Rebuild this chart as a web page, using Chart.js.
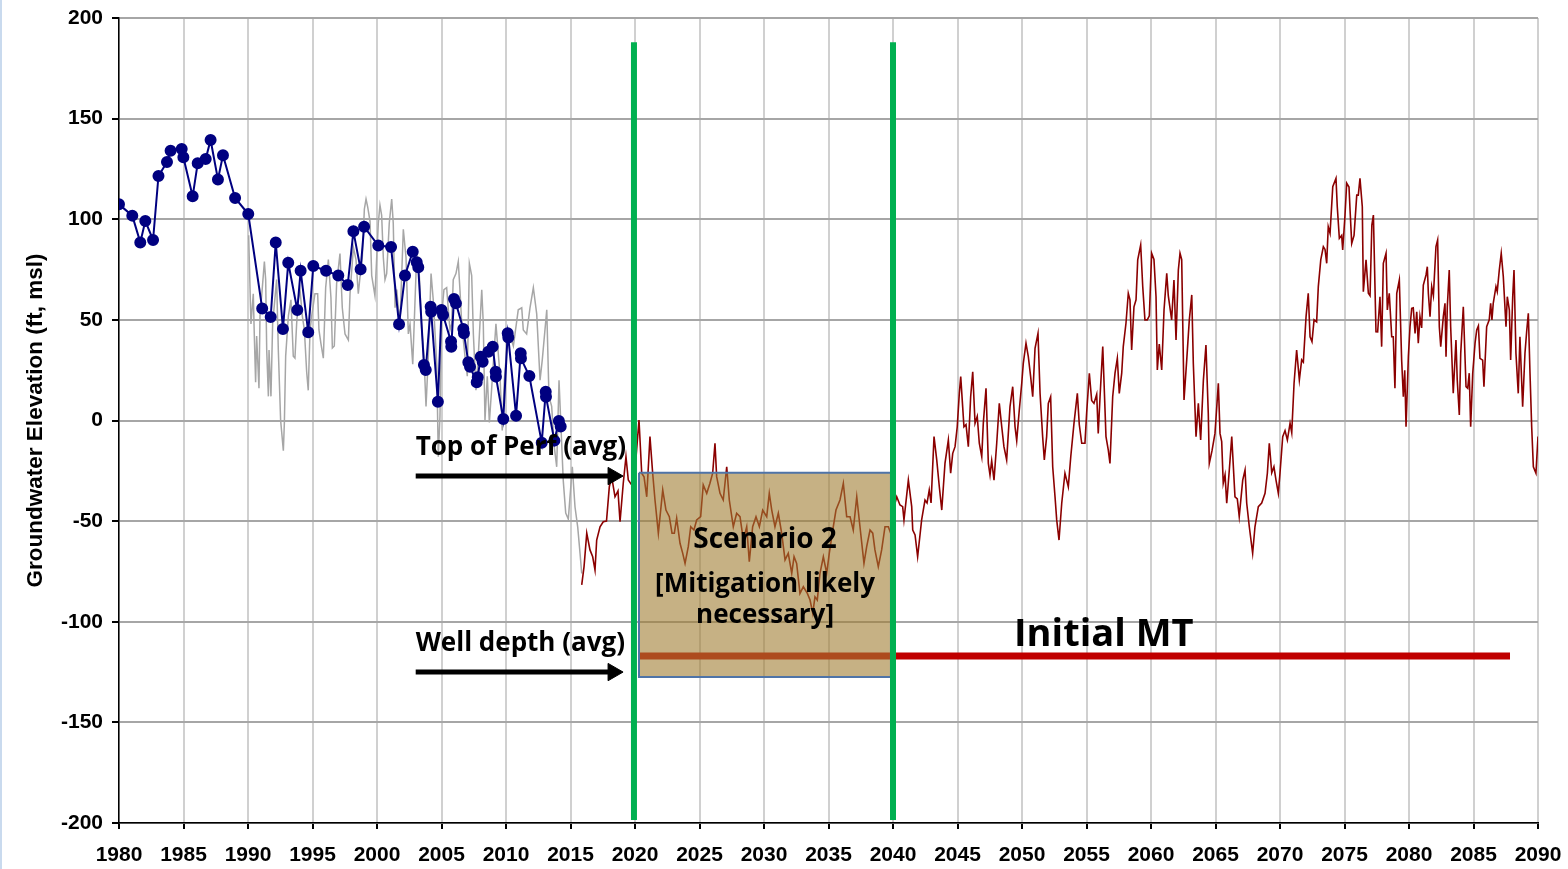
<!DOCTYPE html>
<html>
<head>
<meta charset="utf-8">
<script src="https://cdn.jsdelivr.net/npm/chart.js@4.4.1/dist/chart.umd.min.js"></script>
<style>
  html, body { margin: 0; padding: 0; background: #fff; }
  canvas { display: block; }
  #edge { position: absolute; left: 0; top: 0; width: 2px; height: 869px; background: #c9daee; }
</style>
</head>
<body>
<div id="edge"></div>
<canvas id="chart" width="1568" height="869"></canvas>
<script>
// axis ticks
const xTickYears = [1980, 1985, 1990, 1995, 2000, 2005, 2010, 2015, 2020, 2025, 2030, 2035, 2040,
  2045, 2050, 2055, 2060, 2065, 2070, 2075, 2080, 2085, 2090];
const yTickLevels = [-200, -150, -100, -50, 0, 50, 100, 150, 200];

// measured water levels (blue dots) [year, ft msl]
const measured = [
  [1980.0, 107.4], [1981.03, 101.8], [1981.65, 88.5], [1982.04, 99.1], [1982.64, 89.7],
  [1983.06, 121.5], [1983.72, 128.4], [1984.0, 134], [1984.86, 134.9], [1984.99, 130.8],
  [1985.71, 111.4], [1986.1, 127.8], [1986.72, 129.9], [1987.1, 139.4], [1987.67, 119.8],
  [1988.06, 131.8], [1989.0, 110.6], [1990.02, 102.6], [1991.1, 55.7], [1991.76, 51.4],
  [1992.15, 88.5], [1992.71, 45.5], [1993.12, 78.4], [1993.82, 54.9], [1994.08, 74.4],
  [1994.67, 43.8], [1995.06, 76.8], [1996.05, 74.4], [1997.0, 72], [1997.73, 67.3],
  [1998.17, 94], [1998.73, 75.1], [1999.0, 96.3], [2000.1, 86.9], [2001.09, 86.2],
  [2001.71, 47.8], [2002.17, 72.1], [2002.77, 83.9], [2003.08, 78.6], [2003.2, 76.1],
  [2003.64, 27.6], [2003.78, 25.1], [2004.16, 56.5], [2004.2, 54], [2004.72, 9.3],
  [2005.0, 54.9], [2005.12, 52.4], [2005.74, 39.2], [2005.76, 36.7], [2005.97, 60.4],
  [2006.12, 58.2], [2006.69, 45.5], [2006.74, 43.3], [2007.08, 28.9], [2007.21, 26.7],
  [2007.73, 19], [2007.81, 21.5], [2008.04, 31.7], [2008.19, 29.2], [2008.63, 34.2],
  [2008.97, 36.7], [2009.2, 24.2], [2009.22, 21.8], [2009.79, 0.7], [2010.13, 43.3],
  [2010.18, 41.3], [2010.78, 2.4], [2011.14, 33.4], [2011.16, 30.9], [2011.81, 22.1],
  [2012.77, -11], [2013.08, 14.3], [2013.1, 11.8], [2013.75, -10], [2014.1, -0.2],
  [2014.24, -3]
];

// simulated historical levels (gray) [year, ft msl]
const simulated = [
  [1990.05, 92], [1990.23, 48], [1990.41, 63], [1990.49, 42], [1990.59, 19], [1990.67, 42],
  [1990.85, 16], [1990.93, 52], [1991.11, 66], [1991.27, 79], [1991.37, 70], [1991.45, 35],
  [1991.58, 12], [1991.63, 35], [1991.78, 12], [1991.91, 48], [1992.22, 70], [1992.35, 35],
  [1992.53, 0], [1992.74, -15], [1992.82, -1], [1992.92, 32], [1993.13, 52], [1993.33, 60],
  [1993.51, 32], [1993.64, 31], [1993.77, 48], [1993.9, 60], [1994.03, 65], [1994.21, 52],
  [1994.37, 45], [1994.55, 24], [1994.67, 15], [1994.81, 45], [1994.94, 52], [1995.19, 63],
  [1995.4, 63], [1995.5, 45], [1995.66, 38], [1995.84, 31], [1996.02, 66], [1996.23, 80],
  [1996.43, 61], [1996.54, 36], [1996.69, 37], [1996.87, 68], [1997.13, 83], [1997.31, 56],
  [1997.52, 43], [1997.78, 40], [1997.91, 63], [1998.17, 86], [1998.37, 80], [1998.55, 63],
  [1998.71, 73], [1998.86, 81], [1999.02, 105], [1999.15, 110], [1999.28, 106], [1999.46, 99],
  [1999.59, 72], [1999.84, 62], [2000.1, 98], [2000.23, 107], [2000.36, 102], [2000.49, 81],
  [2000.62, 70], [2000.75, 73], [2000.95, 98], [2001.14, 110], [2001.26, 98], [2001.4, 56],
  [2001.53, 65], [2001.65, 56], [2001.78, 48], [2002.04, 95], [2002.25, 81], [2002.43, 43],
  [2002.56, 48], [2002.77, 28], [2003.08, 83], [2003.28, 72], [2003.47, 45], [2003.64, 32],
  [2003.8, 7], [2003.98, 32], [2004.19, 73], [2004.36, 60], [2004.63, 28], [2004.75, -18],
  [2004.88, 2], [2005.02, 53], [2005.19, 65], [2005.4, 66], [2005.53, 55], [2005.66, 45],
  [2005.79, 48], [2005.91, 70], [2006.12, 73], [2006.3, 79], [2006.43, 65], [2006.57, 48],
  [2006.82, 32], [2007.0, 22], [2007.16, 78], [2007.34, 72], [2007.47, 43], [2007.67, 15],
  [2007.85, 32], [2008.12, 65], [2008.24, 48], [2008.37, 0], [2008.55, 22], [2008.71, -1],
  [2008.89, 16], [2009.22, 48], [2009.53, 23], [2009.71, -5], [2009.87, 20], [2010.18, 45],
  [2010.57, 37], [2010.95, 55], [2011.22, 56], [2011.34, 45], [2011.6, 43], [2011.86, 56],
  [2012.12, 66], [2012.38, 53], [2012.64, 20], [2012.81, 30], [2013.16, 55], [2013.33, 12],
  [2013.54, 7], [2013.74, -13], [2013.93, -23], [2014.11, 20], [2014.26, -3], [2014.44, -30],
  [2014.63, -46], [2014.83, -49], [2015.14, -23], [2015.35, -43], [2015.56, -53], [2015.74, -66],
  [2015.87, -76]
];

// Scenario 2 projection (dark red) [year, ft msl]
const projected = [
  [2015.87, -81.7], [2016.05, -72.6], [2016.26, -56], [2016.51, -64.3], [2016.72, -67.7],
  [2016.9, -74.3], [2017.03, -59.4], [2017.29, -52.8], [2017.54, -50.3], [2017.79, -50],
  [2018.01, -32.9], [2018.19, -27.9], [2018.45, -37.9], [2018.68, -35], [2018.84, -50.3],
  [2019.09, -31.2], [2019.3, -18], [2019.48, -29.6], [2019.74, -32], [2019.92, -31],
  [2020.31, 0.2], [2020.52, -26.2], [2020.7, -28], [2020.91, -37.9], [2021.16, -8],
  [2021.37, -26.2], [2021.55, -39.5], [2021.81, -56], [2022.15, -34.5], [2022.4, -44.5],
  [2022.66, -47.8], [2022.87, -56], [2023.05, -56], [2023.23, -48.6], [2023.49, -61],
  [2023.7, -66], [2023.88, -71], [2024.13, -62.7], [2024.32, -52.8], [2024.57, -54.4],
  [2024.78, -49.4], [2025.09, -47.8], [2025.29, -32], [2025.56, -36.2], [2025.81, -31.2],
  [2026.02, -26.2], [2026.2, -11.3], [2026.33, -27.9], [2026.59, -36.2], [2026.84, -39.5],
  [2027.11, -23], [2027.31, -39.5], [2027.62, -52.8], [2027.88, -46.1], [2028.14, -47.8],
  [2028.4, -59.4], [2028.66, -52.8], [2028.86, -70.2], [2029.12, -52.8], [2029.38, -47.8],
  [2029.64, -52.8], [2029.9, -44.5], [2030.21, -47.8], [2030.41, -36.2], [2030.6, -44.5],
  [2030.85, -52.8], [2031.11, -46.1], [2031.37, -56], [2031.63, -69.3], [2031.88, -66],
  [2032.15, -75.9], [2032.33, -67.7], [2032.53, -71], [2032.79, -85.9], [2033.05, -82.6],
  [2033.36, -85.9], [2033.57, -89.2], [2033.78, -95.8], [2033.95, -87.6], [2034.13, -89.2],
  [2034.34, -75.9], [2034.6, -67.7], [2034.86, -75.9], [2035.06, -66], [2035.37, -52.8],
  [2035.58, -44.5], [2035.89, -39.5], [2036.15, -31.2], [2036.41, -47.8], [2036.67, -47.8],
  [2036.92, -54.4], [2037.19, -37.9], [2037.44, -52.8], [2037.75, -71], [2037.96, -62.7],
  [2038.22, -54.4], [2038.43, -56], [2038.6, -64.3], [2038.86, -72.6], [2039.12, -64.3],
  [2039.38, -52.8], [2039.64, -52.8], [2039.82, -56], [2040.0, -45], [2040.29, -37.9],
  [2040.54, -42], [2040.75, -42.8], [2040.85, -49.4], [2041.19, -29.6], [2041.45, -42.8],
  [2041.53, -54.4], [2041.71, -56.9], [2041.91, -67.7], [2042.22, -49.4], [2042.48, -39.5],
  [2042.64, -41], [2042.81, -34.5], [2042.95, -41], [2043.18, -8], [2043.39, -19.6],
  [2043.59, -32.9], [2043.78, -44.5], [2044.03, -21.3], [2044.29, -9.7], [2044.47, -26.2],
  [2044.63, -16.3], [2044.81, -13], [2044.98, -3.1], [2045.14, 13.5], [2045.25, 21.8],
  [2045.4, 6.9], [2045.5, -3.1], [2045.66, -2], [2045.84, -13], [2046.02, 11.8],
  [2046.18, 24.2], [2046.36, -1.4], [2046.53, 2], [2046.69, -11.3], [2046.88, -18],
  [2047.0, -1.4], [2047.21, 16], [2047.39, -21.3], [2047.52, -27.1], [2047.65, -20],
  [2047.83, -29.6], [2048.04, -11.3], [2048.24, 8.5], [2048.43, -3.1], [2048.6, -13],
  [2048.81, -19.6], [2049.07, 6.9], [2049.28, 16.8], [2049.46, -3.1], [2049.59, -10],
  [2049.79, 5.2], [2049.98, 18.5], [2050.1, 28.4], [2050.31, 38.4], [2050.49, 31.7],
  [2050.67, 21.8], [2050.83, 11.8], [2051.01, 35.9], [2051.24, 43.3], [2051.4, 13.5],
  [2051.6, -8], [2051.73, -19.6], [2051.91, -8], [2052.04, 8.5], [2052.22, 11.8],
  [2052.38, -23], [2052.56, -37.9], [2052.69, -49.4], [2052.87, -59.4], [2053.08, -41.1],
  [2053.33, -26.2], [2053.59, -32.9], [2053.78, -18], [2054.03, -1.4], [2054.29, 13.5],
  [2054.44, -2], [2054.63, -11.3], [2054.88, -11.3], [2055.01, 3.6], [2055.22, 23.5],
  [2055.4, 10], [2055.58, 8.5], [2055.79, 13], [2055.91, -6.4], [2056.05, 11.8],
  [2056.26, 36.7], [2056.51, -8], [2056.69, -14.7], [2056.82, -21.3], [2057.03, 11.8],
  [2057.21, 23.5], [2057.39, 30.9], [2057.54, 13.5], [2057.73, 23.5], [2057.85, 36.7],
  [2058.06, 48.3], [2058.24, 63.2], [2058.37, 60], [2058.5, 35], [2058.68, 56.5],
  [2058.84, 60], [2058.97, 79.8], [2059.2, 87.2], [2059.36, 66.5], [2059.53, 50],
  [2059.71, 50], [2059.87, 52], [2060.05, 83.1], [2060.23, 80], [2060.39, 61.5],
  [2060.49, 25.1], [2060.64, 38], [2060.83, 25.1], [2061.01, 54.9], [2061.22, 73.1],
  [2061.34, 62], [2061.6, 50], [2061.78, 69.8], [2061.94, 40], [2062.12, 74.8],
  [2062.25, 83.1], [2062.38, 80], [2062.56, 10.2], [2062.77, 30.1], [2062.97, 50],
  [2063.16, 62.4], [2063.28, 28.4], [2063.49, -8], [2063.67, 8.5], [2063.85, -9.7],
  [2064.06, 20], [2064.26, 37.5], [2064.44, 3.6], [2064.52, -21.3], [2064.73, -15],
  [2064.96, -6.4], [2065.22, 18.5], [2065.35, -6.4], [2065.48, -10.5], [2065.6, -31.2],
  [2065.74, -27], [2065.87, -41.1], [2066.07, -24.6], [2066.26, -8], [2066.51, -37.9],
  [2066.69, -39], [2066.84, -47.8], [2067.11, -29.6], [2067.29, -24.6], [2067.42, -41.1],
  [2067.62, -52.8], [2067.88, -66], [2068.06, -52.8], [2068.32, -42.8], [2068.58, -41],
  [2068.84, -36.2], [2069.02, -26.2], [2069.17, -11.3], [2069.36, -26], [2069.53, -23],
  [2069.69, -29.6], [2069.87, -36.2], [2070.0, -26.2], [2070.21, -8], [2070.39, -5],
  [2070.57, -9.7], [2070.78, -1.4], [2070.91, -6], [2071.09, 18.5], [2071.29, 35],
  [2071.5, 20.1], [2071.68, 30.1], [2071.81, 29], [2072.02, 51.6], [2072.19, 63.2],
  [2072.33, 41.6], [2072.48, 39.2], [2072.64, 50], [2072.84, 49], [2072.97, 66.5],
  [2073.16, 79.8], [2073.36, 86.4], [2073.49, 85], [2073.62, 78.1], [2073.74, 96.3],
  [2073.88, 93], [2074.09, 116.2], [2074.34, 120.3], [2074.44, 106.2], [2074.6, 90.5],
  [2074.78, 92], [2074.86, 84.7], [2075.04, 102.1], [2075.17, 117.9], [2075.35, 116],
  [2075.43, 104.6], [2075.56, 88], [2075.74, 92], [2075.95, 112], [2076.07, 112],
  [2076.2, 120.3], [2076.38, 106.2], [2076.46, 64], [2076.67, 79.8], [2076.85, 63.2],
  [2076.98, 62], [2077.12, 97.1], [2077.24, 102.1], [2077.44, 44.1], [2077.57, 44],
  [2077.75, 61.5], [2077.88, 36.7], [2078.01, 78.1], [2078.22, 83.1], [2078.32, 54.9],
  [2078.47, 63.2], [2078.66, 41.6], [2078.78, 41.6], [2078.91, 16], [2079.05, 63.2],
  [2079.25, 69.8], [2079.43, 30.1], [2079.56, 11.8], [2079.67, 25], [2079.77, -3.1],
  [2079.95, 31.7], [2080.08, 46.6], [2080.21, 55.7], [2080.33, 56], [2080.47, 43.3],
  [2080.6, 54], [2080.72, 38.4], [2080.85, 51.6], [2080.98, 46], [2081.11, 67.3],
  [2081.32, 72.3], [2081.42, 76.4], [2081.5, 63.2], [2081.63, 51.6], [2081.76, 66.5],
  [2081.89, 62], [2082.09, 86.4], [2082.22, 89.7], [2082.35, 46.6], [2082.46, 36.7],
  [2082.66, 51.6], [2082.79, 58.2], [2082.87, 31.7], [2082.97, 56.5], [2083.12, 74.8],
  [2083.23, 46.6], [2083.43, 13.5], [2083.64, 40], [2083.74, 20.1], [2083.9, 2.7],
  [2084.01, 33.4], [2084.21, 56.5], [2084.42, 16.8], [2084.55, 16], [2084.67, 23.5],
  [2084.78, -3.1], [2084.94, 23.5], [2085.12, 38.4], [2085.25, 45], [2085.38, 47],
  [2085.5, 30.9], [2085.71, 30], [2085.81, 16.8], [2086.02, 46.6], [2086.22, 50],
  [2086.33, 58.2], [2086.43, 50], [2086.53, 58.2], [2086.74, 66.5], [2086.84, 64],
  [2087.0, 74.8], [2087.15, 83.1], [2087.31, 71.5], [2087.52, 46.6], [2087.62, 61.5],
  [2087.78, 54.9], [2087.88, 30.1], [2088.04, 61.5], [2088.14, 74.8], [2088.29, 33.4],
  [2088.47, 13.5], [2088.6, 41.6], [2088.81, 6.9], [2088.99, 33.4], [2089.12, 44.1],
  [2089.25, 53.3], [2089.38, 23.5], [2089.51, -3.1], [2089.64, -23], [2089.84, -26.2],
  [2090.0, -8]
];

// reference levels and periods
const initialMT = { years: [2020.31, 2087.83], level: -117 };
const scenarioBox = { years: [2020.31, 2039.84], levels: [-26, -127.5] };
const markerYears = [2019.92, 2040.0];
const markerLevels = [-198.5, 188];
const topOfPerf = -27.6;
const wellDepth = -125;
const arrowYears = [2003.0, 2018.3];

const pts = arr => arr.map(([x, y]) => ({ x, y }));

const labelFont = '"Open Sans", "Noto Sans", sans-serif';
const notes = [
  { text: 'Top of Perf (avg)', x: 2003.0, y: -17, align: 'left', size: 26 },
  { text: 'Well depth (avg)', x: 2003.0, y: -114.5, align: 'left', size: 26 },
  { text: 'Scenario 2', x: 2030.08, y: -63.4, align: 'center', size: 28 },
  { text: '[Mitigation likely', x: 2030.08, y: -85, align: 'center', size: 26 },
  { text: 'necessary]', x: 2030.08, y: -100.6, align: 'center', size: 26 },
  { text: 'Initial MT', x: 2049.38, y: -112, align: 'left', size: 38 }
];

const notePlugin = {
  id: 'notes',
  afterDatasetsDraw(chart) {
    const { ctx, scales: { x, y } } = chart;
    ctx.save();
    ctx.fillStyle = '#000';
    ctx.textBaseline = 'alphabetic';
    notes.forEach(n => {
      ctx.font = `bold ${n.size}px ${labelFont}`;
      ctx.textAlign = n.align;
      ctx.fillText(n.text, x.getPixelForValue(n.x), y.getPixelForValue(n.y));
    });
    ctx.restore();
  }
};

const plain = { pointRadius: 0, pointHoverRadius: 0, fill: false, tension: 0 };

const arrow = level => ({
  ...plain,
  data: pts([[arrowYears[0], level], [arrowYears[1], level]]),
  borderColor: '#000',
  borderWidth: 5,
  pointRadius: [0, 10],
  pointStyle: 'triangle',
  pointRotation: 90,
  pointBackgroundColor: '#000',
  pointBorderColor: '#000',
  pointBorderWidth: 1,
  order: 1
});

const axisFont = { family: '"Liberation Sans", Arial, sans-serif', size: 21, weight: 'bold' };

const ctx = document.getElementById('chart').getContext('2d');
new Chart(ctx, {
  type: 'line',
  data: {
    datasets: [
      { ...plain, data: pts(simulated), borderColor: '#a6a6a6', borderWidth: 1.5, order: 10 },
      {
        ...plain, data: pts(measured), borderColor: '#000080', borderWidth: 2,
        pointRadius: 5, pointBackgroundColor: '#000080', pointBorderColor: '#000080', order: 9
      },
      { ...plain, data: pts(projected), borderColor: '#8b0000', borderWidth: 1.6, order: 8 },
      {
        ...plain,
        data: pts([[initialMT.years[0], initialMT.level], [initialMT.years[1], initialMT.level]]),
        borderColor: '#c00000', borderWidth: 7, borderCapStyle: 'butt', order: 7
      },
      {
        ...plain,
        data: pts([[scenarioBox.years[0], scenarioBox.levels[0]], [scenarioBox.years[1], scenarioBox.levels[0]]]),
        borderWidth: 0, borderColor: 'rgba(0,0,0,0)',
        backgroundColor: 'rgba(160,125,50,0.6)',
        fill: { value: scenarioBox.levels[1] }, order: 6
      },
      {
        ...plain,
        data: pts([
          [scenarioBox.years[0], scenarioBox.levels[0]], [scenarioBox.years[1], scenarioBox.levels[0]],
          [scenarioBox.years[1], scenarioBox.levels[1]], [scenarioBox.years[0], scenarioBox.levels[1]],
          [scenarioBox.years[0], scenarioBox.levels[0]]
        ]),
        borderColor: '#4f74a8', borderWidth: 2, order: 5
      },
      {
        ...plain, data: pts([[markerYears[0], markerLevels[0]], [markerYears[0], markerLevels[1]]]),
        borderColor: '#00b050', borderWidth: 6, borderCapStyle: 'butt', order: 4
      },
      {
        ...plain, data: pts([[markerYears[1], markerLevels[0]], [markerYears[1], markerLevels[1]]]),
        borderColor: '#00b050', borderWidth: 6, borderCapStyle: 'butt', order: 4
      },
      arrow(topOfPerf),
      arrow(wellDepth)
    ]
  },
  options: {
    responsive: false,
    animation: false,
    layout: { padding: { top: 18, right: 30, left: 0, bottom: 0 } },
    plugins: {
      legend: { display: false },
      tooltip: { enabled: false },
      filler: { propagate: false }
    },
    scales: {
      x: {
        type: 'linear',
        min: 1980,
        max: 2090,
        afterBuildTicks: s => { s.ticks = xTickYears.map(v => ({ value: v })); },
        afterFit: s => {
          s.height = 46;
          s.paddingLeft = 0;
          s.paddingRight = 0;
        },
        ticks: {
          color: '#000',
          font: axisFont,
          padding: 14,
          maxRotation: 0,
          autoSkip: false,
          callback: v => String(v)
        },
        grid: { color: '#d0d0d0', lineWidth: 2, tickLength: 6, tickColor: '#000' },
        border: { color: '#000', width: 1.5 }
      },
      y: {
        min: -200,
        max: 200,
        afterBuildTicks: s => { s.ticks = yTickLevels.map(v => ({ value: v })); },
        afterFit: s => {
          s.width = 119;
          s.paddingTop = 0;
          s.paddingBottom = 0;
        },
        ticks: { color: '#000', font: axisFont, padding: 9, callback: v => String(v) },
        grid: { color: '#a6a6a6', lineWidth: 2, tickLength: 7, tickColor: '#000' },
        border: { color: '#000', width: 1.5 },
        title: {
          display: true,
          text: 'Groundwater Elevation (ft, msl)',
          color: '#000',
          font: { ...axisFont, size: 22.5 },
          padding: { top: 22, bottom: 0 }
        }
      }
    }
  },
  plugins: [notePlugin]
});
</script>
</body>
</html>
